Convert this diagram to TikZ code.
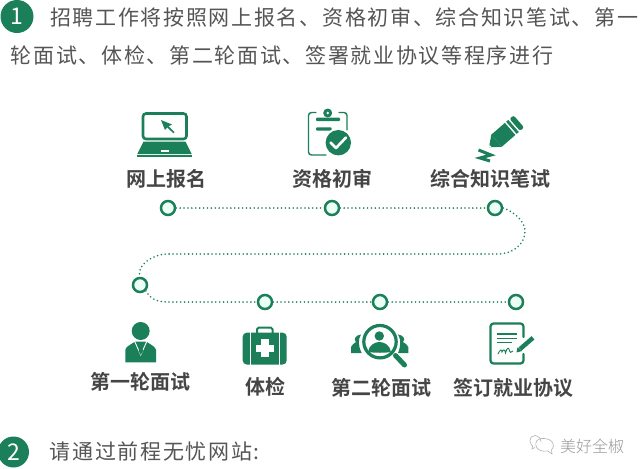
\documentclass[tikz,border=0pt]{standalone}
\usepackage{fontspec}
\newfontfamily\cjk{Noto Sans CJK SC}
\newfontfamily\cjkb{Noto Sans CJK SC Bold}
\newfontfamily\bodyf[LetterSpace=8]{Noto Sans CJK SC}
\newfontfamily\markf{Noto Sans CJK SC Light}
\usetikzlibrary{calc}
\definecolor{gr}{HTML}{1B8059}
\definecolor{pale}{HTML}{EBFFF6}
\definecolor{ink}{HTML}{454545}
\definecolor{body}{HTML}{555555}
\tikzset{
  stop/.style={circle,draw=gr,fill=pale,line width=2.5pt,minimum size=14pt,inner sep=0pt},
  trail/.style={draw=gr,line width=1.8pt,line cap=round,dash pattern=on 0pt off 3.9pt},
  lab/.style={text=ink,inner sep=0pt,font=\cjkb\fontsize{20}{22}\selectfont},
  para/.style={anchor=base west,text=body,inner sep=0pt,font=\bodyf\fontsize{21}{24}\selectfont},
  badge/.style={circle,fill=gr,text=white,inner sep=0pt,font=\cjk\fontsize{23}{24}\selectfont},
  gline/.style={draw=gr,line cap=round,line join=round},
}
\begin{document}
\begin{tikzpicture}[x=1pt,y=-1pt]
\useasboundingbox (0,0) rectangle (641,469);
\fill[white] (0,0) rectangle (641,469);

% badges and paragraph text
\node[badge,minimum size=33pt] (b1) at (17,16.5) {1};
\begin{scope}
\clip (0,0) rectangle (641,469);
\node[badge,minimum size=31pt] (b2) at (13.5,452) {2};
\end{scope}
\node[para] (t1) at (50,25.5) {招聘工作将按照网上报名、资格初审、综合知识笔试、第一};
\node[para] (t2) at (10.5,63.5) {轮面试、体检、第二轮面试、签署就业协议等程序进行};
\node[para] (t3) at (49.5,459.5) {请通过前程无忧网站:};

% stops
\node[stop] (s1) at (168,208) {};
\node[stop] (s2) at (332,208) {};
\node[stop] (s3) at (495,208) {};
\node[stop] (s4) at (140,285) {};
\node[stop] (s5) at (265,302) {};
\node[stop] (s6) at (380,302) {};
\node[stop] (s7) at (516,302) {};
% connectors
\path[trail] (s1) -- (s2);
\path[trail] (s2) -- (s3);
\path[trail] (s3.east) .. controls (515,212) and (525,222) .. (525,231)
   .. controls (525,245) and (512,254) .. (498,254) -- (168,254)
   .. controls (152,254) and (136,266) .. (s4.north);
\path[trail] (s4.south east) .. controls (149,297) and (155,302) .. (167,302) -- (s5);
\path[trail] (s5) -- (s6);
\path[trail] (s6) -- (s7);

% labels
\node[lab] (l1) at (166,179) {网上报名};
\node[lab] (l2) at (332,179) {资格初审};
\node[lab] (l3) at (490,179) {综合知识笔试};
\node[lab] (l4) at (140,382) {第一轮面试};
\node[lab] (l5) at (265,387) {体检};
\node[lab] (l6) at (381,388) {第二轮面试};
\node[lab] (l7) at (513,388) {签订就业协议};

% laptop
\draw[gr,line width=2.6pt,rounded corners=3pt] (143,113.5) rectangle (186.5,139);
\fill[gr] (143.5,141.7) -- (185.5,141.7) -- (191.7,154) -- (137.3,154) -- cycle;
\fill[gr] (137.3,155) rectangle (191.7,156.7);
\fill[white] (160.7,150) rectangle (168.7,151.6);
\fill[gr] (161,120) -- (172,124.5) -- (168,126.5) -- (165,130) -- cycle;
\draw[gr,line width=1.7pt] (166,125) -- (174,132.7);

% clipboard
\draw[gline,line width=1.4pt,rounded corners=3pt] (316,112.5) -- (308.5,112.5) -- (308.5,155) -- (326,155);
\draw[gline,line width=1.4pt,rounded corners=3pt] (339,112.5) -- (347,112.5) -- (347,130);
\fill[gr] (327.7,113) circle (4.5);
\fill[white] (327.7,113) circle (1.4);
\fill[gr,rounded corners=1pt] (316,117.7) rectangle (340,121.2);
\fill[gr,rounded corners=1pt] (316,127.3) rectangle (331.7,130.5);
\fill[white] (338.3,142.7) circle (14.3);
\fill[gr] (338.3,142.7) circle (12.7);
\draw[white,line width=2.6pt,line cap=round,line join=round] (330.5,142.5) -- (336,148) -- (346,137.5);

% pencil
\begin{scope}[shift={(489,147.3)},rotate=41]
\fill[gr] (0,0) -- (10,-8) -- (10,8) -- cycle;
\fill[white] (2,-1.6) -- (2,1.6) -- (0,0) -- cycle;
\fill[gr] (10,-8) rectangle (28,8);
\fill[gr] (29.7,-8) rectangle (32.5,8);
\fill[gr,rounded corners=2pt] (34.2,-8) rectangle (39.5,8);
\end{scope}
\draw[gr,line width=3pt,line join=miter] (478.5,150) -- (491,155) -- (480,158) -- (490,161);

% person
\fill[gr] (140.7,331) circle (9);
\fill[gr] (125.3,362.3) -- (125.3,350) .. controls (125.8,346.5) and (130,345) .. (135,341.7)
  -- (146.5,341.7) .. controls (151,345) and (155.5,346.5) .. (156,350) -- (156,362.3) -- cycle;
\draw[white,line width=.9pt] (134.5,341) -- (140.7,355) -- (147,341);
\fill[gr] (139,342) -- (142.5,342) -- (141.8,345) -- (143,351) -- (140.7,355) -- (138.6,351) -- (139.8,345) -- cycle;

% medical kit
\draw[gr,line width=2pt,rounded corners=1.5pt] (257,333) -- (257,327.7) -- (272.5,327.7) -- (272.5,333);
\fill[gr,rounded corners=4pt] (242.7,332.7) rectangle (286.7,364.5);
\fill[white] (249.6,332) rectangle (250.8,365);
\fill[white] (278.9,332) rectangle (280.1,365);
\fill[white] (261.3,339.2) rectangle (268.7,357.4);
\fill[white] (255.9,344.6) rectangle (274.1,352);

% search
\fill[gr] (351,353) -- (351,347) .. controls (351.5,344.5) and (354,344) .. (356,342)
  .. controls (353,339) and (356,335) .. (361,334.5) .. controls (358,339) and (358,346) .. (361.7,353) -- cycle;
\fill[gr] (408.3,353) -- (408.3,347) .. controls (407.8,344.5) and (405.3,344) .. (403,342)
  .. controls (406,339) and (403,335) .. (398,334.5) .. controls (401,339) and (401,346) .. (398,353) -- cycle;
\fill[white] (380,341.7) circle (19);
\draw[gr,line width=3.2pt] (380,341.7) circle (16.2);
\fill[gr] (379.3,336) circle (4.7);
\begin{scope}
\clip (380,341.7) circle (14.6);
\fill[gr] (379.3,342) .. controls (384,342) and (390,345) .. (391,352) .. controls (385,353) and (375,353) .. (368,352) .. controls (369,345) and (375,342) .. (379.3,342) -- cycle;
\end{scope}
\draw[gr,line width=5pt,line cap=round] (395.5,355.5) -- (404.5,365);

% contract
\draw[gline,line width=2.3pt,rounded corners=3pt] (523.5,337) -- (523.5,323.5) -- (490.5,323.5) -- (490.5,363.5) -- (523.5,363.5) -- (523.5,354);
\draw[gr,line width=1.4pt] (496.7,334) -- (516.7,334);
\draw[gr,line width=1.4pt] (496.7,338.3) -- (516.7,338.3);
\draw[gr,line width=1.4pt] (496.7,342.3) -- (511.7,342.3);
\draw[gr,line width=.9pt] (498,354) .. controls (500,349) and (502,349) .. (502,352) .. controls (503,349) and (505,349) .. (505.5,353) .. controls (507,347) and (509,347) .. (509.5,351) .. controls (510,352.5) and (511,353) .. (513,351);
\draw[white,line width=6.5pt] (516.7,352) -- (534,337);
\draw[gr,line width=4.4pt] (520,349.1) -- (533,337.8);
\fill[gr] (516.5,352.5) -- (517.5,347.3) -- (522,351) -- cycle;

% watermark
\draw[black!30,line width=.6pt] (541,442) .. controls (541,434) and (530,433) .. (530,441) .. controls (530,444) and (532,445) .. (532.5,446) -- (532,449) -- (535,447.5);
\draw[black!30,line width=.6pt] (544,438.5) .. controls (537,438) and (535,442) .. (536,446) .. controls (537,450) and (542,452) .. (548,451) -- (552,454) -- (551.5,450)  .. controls (556,446) and (553,439) .. (544,438.5) -- cycle;
\node[text=black!40,inner sep=0pt,font=\markf\fontsize{16}{18}\selectfont] (wm) at (592,446) {美好全椒};
\end{tikzpicture}
\end{document}
